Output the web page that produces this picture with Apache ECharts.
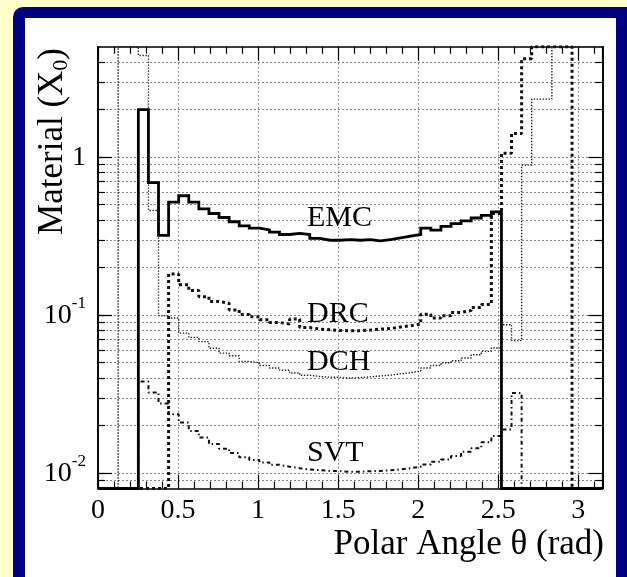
<!DOCTYPE html>
<html>
<head>
<meta charset="utf-8">
<title>Material in front of the detector systems</title>
<script src="https://cdn.jsdelivr.net/npm/echarts@6/dist/echarts.min.js"></script>
<style>
html, body { margin: 0; padding: 0; background: #ffffcc; overflow: hidden; }
#border { position: absolute; left: 13px; top: 7px; width: 680px; height: 640px; background: #000080; border-radius: 10px; }
#panel { position: absolute; left: 25px; top: 18px; width: 591px; height: 600px; background: #fff; }
#chart { position: absolute; left: 0; top: 0; width: 627px; height: 577px; }
</style>
</head>
<body>
<div id="border"></div>
<div id="panel"></div>
<div id="chart"></div>
<script>
// histogram: 50 bins in polar angle from 0 to 3.15 rad
var thetaMax = 3.15;
var nBins = 50;
// 0 = empty bin (drawn on the bottom frame), 8 = off the top of the frame
var emc = [0, 0, 0, 0, 2.0, 0.69, 0.32, 0.52, 0.57, 0.52,
           0.47, 0.44, 0.415, 0.39, 0.367, 0.355, 0.346, 0.335, 0.324, 0.329,
           0.324, 0.306, 0.298, 0.298, 0.301, 0.298, 0.301, 0.295, 0.301, 0.308,
           0.316, 0.324, 0.356, 0.345, 0.365, 0.38, 0.395, 0.412, 0.428, 0.45,
           0, 0, 0, 0, 0, 0, 0, 0, 0, 0];
var drc = [0, 0, 0, 0, 0, 0, 0, 0.182, 0.156, 0.143,
           0.131, 0.122, 0.119, 0.108, 0.101, 0.0976, 0.0934, 0.090, 0.0878, 0.0944,
           0.0835, 0.0816, 0.0808, 0.080, 0.0797, 0.0797, 0.0805, 0.0816, 0.0823, 0.0843,
           0.0857, 0.0878, 0.1015, 0.0958, 0.099, 0.104, 0.107, 0.112, 0.117, 0.44,
           1.06, 1.41, 4.2, 8, 8, 8, 8, 0, 0, 0];
var dch = [0, 0, 8, 8, 4.4, 0.46, 0.099, 0.096, 0.077, 0.0724,
           0.068, 0.0618, 0.0575, 0.0553, 0.0509, 0.050, 0.048, 0.0463, 0.0448, 0.0431,
           0.0417, 0.0409, 0.0405, 0.0404, 0.040, 0.0402, 0.0407, 0.0412, 0.0417, 0.0425,
           0.0433, 0.0443, 0.0463, 0.048, 0.050, 0.0515, 0.0536, 0.0562, 0.059, 0.062,
           0.087, 0.069, 0.89, 2.33, 2.33, 8, 8, 8, 8, 8];
var svt = [0, 0, 0, 0, 0.038, 0.0324, 0.0276, 0.0236, 0.0209, 0.0185,
           0.0168, 0.0153, 0.0143, 0.0134, 0.0126, 0.0121, 0.0117, 0.0113, 0.0110, 0.01075,
           0.01055, 0.01045, 0.01034, 0.0103, 0.0102, 0.0102, 0.0103, 0.01034, 0.01045, 0.01055,
           0.01075, 0.0110, 0.01135, 0.0118, 0.0122, 0.01285, 0.01365, 0.01436, 0.0157, 0.0172,
           0.0189, 0.0322, 0, 0, 0, 0, 0, 0, 0, 0];
var yMin = 0.008, yMax = 5;
var yMajor = [0.01, 0.1, 1];
var yMinor = [0.009, 0.02, 0.03, 0.04, 0.05, 0.06, 0.07, 0.08, 0.09,
              0.2, 0.3, 0.4, 0.5, 0.6, 0.7, 0.8, 0.9, 2, 3, 4];
var serif = '"Liberation Serif", "Times New Roman", serif';

var myChart = echarts.init(document.getElementById('chart'));

// bin contents -> step points, clamped to the frame like ROOT does
function histPoints(vals) {
    var w = thetaMax / nBins;
    var pts = [];
    for (var i = 0; i < vals.length; i++) {
        pts.push([i * w, Math.min(Math.max(vals[i], yMin), yMax)]);
    }
    pts.push([vals.length * w, pts[pts.length - 1][1]]);
    return pts;
}

function xAxisDef(pos, labels) {
    return {
        type: 'value', position: pos, min: 0, max: thetaMax, interval: 0.5,
        axisLine: { show: true, onZero: false, lineStyle: { color: '#000', width: 1.6 } },
        axisTick: { show: true, inside: true, length: 14, lineStyle: { color: '#000', width: 1.2 } },
        minorTick: { show: true, splitNumber: 5, length: 7, lineStyle: { color: '#000', width: 1.2 } },
        axisLabel: labels ? {
            show: true, margin: 8, color: '#000', fontFamily: serif, fontSize: 28,
            showMaxLabel: false
        } : { show: false },
        splitLine: labels ? { show: true, lineStyle: { color: '#888', width: 1, type: [2, 2] } } : { show: false }
    };
}

function yAxisDef(pos, ticks, len, labels, grid) {
    return {
        type: 'log', position: pos, min: yMin, max: yMax,
        axisLine: { show: true, onZero: false, lineStyle: { color: '#000', width: 1.6 } },
        axisTick: { show: true, inside: true, length: len, customValues: ticks, lineStyle: { color: '#000', width: 1.2 } },
        minorTick: { show: false },
        axisLabel: labels ? {
            show: true, margin: 12, customValues: yMajor,
            formatter: function (v) {
                if (Math.abs(v - 1) < 1e-9) return '{b|1}';
                var e = Math.round(Math.log(v) / Math.LN10);
                return '{b|10}{s|' + e + '}';
            },
            rich: {
                b: { fontFamily: serif, fontSize: 28, color: '#000', lineHeight: 40 },
                s: { fontFamily: serif, fontSize: 17, color: '#000', lineHeight: 17, verticalAlign: 'top' }
            }
        } : { show: false },
        splitLine: grid ? { show: true, lineStyle: { color: '#888', width: 1, type: [2, 2] } } : { show: false }
    };
}

function histSeries(name, vals, style, z) {
    return {
        name: name, type: 'line', step: 'end', symbol: 'none', clip: true,
        xAxisIndex: 0, yAxisIndex: 0, z: z,
        data: histPoints(vals),
        lineStyle: style
    };
}

function label(text, x, y) {
    return {
        type: 'text', x: x, y: y, z: 50,
        style: {
            text: text, fill: '#000', font: '30px ' + serif,
            align: 'left', verticalAlign: 'middle', textAlign: 'left', textVerticalAlign: 'middle'
        }
    };
}

option = {
    animation: false,
    grid: { left: 98, right: 24.7, top: 46.7, bottom: 88.5, containLabel: false, outerBoundsMode: 'none' },
    xAxis: [xAxisDef('bottom', true), xAxisDef('top', false)],
    yAxis: [
        yAxisDef('left', yMajor, 14, true, false),
        yAxisDef('left', yMinor.concat(yMajor), 7, false, true),
        yAxisDef('right', yMajor, 14, false, false),
        yAxisDef('right', yMinor, 7, false, false)
    ],
    series: [
        histSeries('SVT', svt, { color: '#111', width: 2, type: [4, 3, 1.5, 3], cap: 'butt' }, 3),
        histSeries('DCH', dch, { color: '#222', width: 1.4, type: [1.4, 1.6], cap: 'butt' }, 3),
        histSeries('DRC', drc, { color: '#111', width: 3, type: [3, 3], cap: 'butt' }, 4),
        histSeries('EMC', emc, { color: '#000', width: 2.8, type: 'solid', join: 'miter' }, 5)
    ],
    graphic: [
        label('EMC', 307, 218),
        label('DRC', 307, 314),
        label('DCH', 307, 362),
        label('SVT', 307, 453),
        {
            type: 'text', x: 604, y: 545, z: 50,
            style: {
                text: 'Polar Angle θ (rad)', fill: '#000', font: '35px ' + serif,
                align: 'right', verticalAlign: 'middle', textAlign: 'right', textVerticalAlign: 'middle'
            }
        },
        {
            type: 'text', x: 53, y: 48, rotation: Math.PI / 2, z: 50,
            style: {
                text: '{m|Material (X}{sub|0}{m|)}',
                rich: {
                    m: { font: '35px ' + serif, fill: '#000', lineHeight: 38 },
                    sub: { font: '22px ' + serif, fill: '#000', lineHeight: 14, verticalAlign: 'bottom' }
                },
                align: 'right', verticalAlign: 'middle', textAlign: 'right', textVerticalAlign: 'middle'
            }
        }
    ]
};

myChart.setOption(option);
</script>
</body>
</html>
